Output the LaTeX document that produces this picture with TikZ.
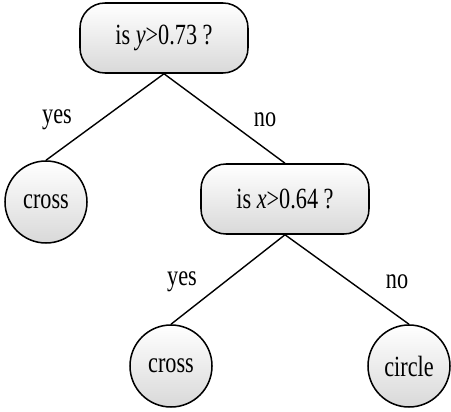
\documentclass[tikz,border=0pt]{standalone}
\usepackage{fontspec}
\setmainfont{Liberation Serif}[FakeStretch=0.76]
\usepackage{tikz}
\usetikzlibrary{positioning}

\begin{document}
\begin{tikzpicture}[
  test/.style={draw,line width=1.3pt,rounded corners=0.75cm,
               top color=white,bottom color=gray!30,
               minimum width=5.04cm,minimum height=2.1cm,
               font=\fontsize{25}{28}\selectfont,inner sep=2pt},
  leaf/.style={draw,circle,line width=1.3pt,
               top color=white,bottom color=gray!30,
               minimum size=2.46cm,inner sep=0pt,
               font=\fontsize{25}{28}\selectfont},
  lbl/.style={font=\fontsize{25}{28}\selectfont,inner sep=1pt},
  branch/.style={line width=1.2pt},
]
\useasboundingbox (0,0) rectangle (13.53,12.36);
\node[test] (root) at (4.92,11.22) {is \textit{y}>0.73 ?};
\node[leaf] (crossA) at (1.38,6.30) {cross};
\node[test] (testx) at (8.55,6.39) {is \textit{x}>0.64 ?};
\node[leaf] (crossB) at (5.13,1.38) {cross};
\node[leaf] (circ) at (12.27,1.38) {circle};
\node[lbl] (yesA) at (1.71,8.76) {yes};
\node[lbl] (noA) at (7.95,8.76) {no};
\node[lbl] (yesB) at (5.46,3.90) {yes};
\node[lbl] (noB) at (11.91,3.90) {no};
\draw[branch] (root.south) -- (crossA.north);
\draw[branch] (root.south) -- (testx.north);
\draw[branch] (testx.south) -- (crossB.north);
\draw[branch] (testx.south) -- (circ.north);
\end{tikzpicture}
\end{document}
